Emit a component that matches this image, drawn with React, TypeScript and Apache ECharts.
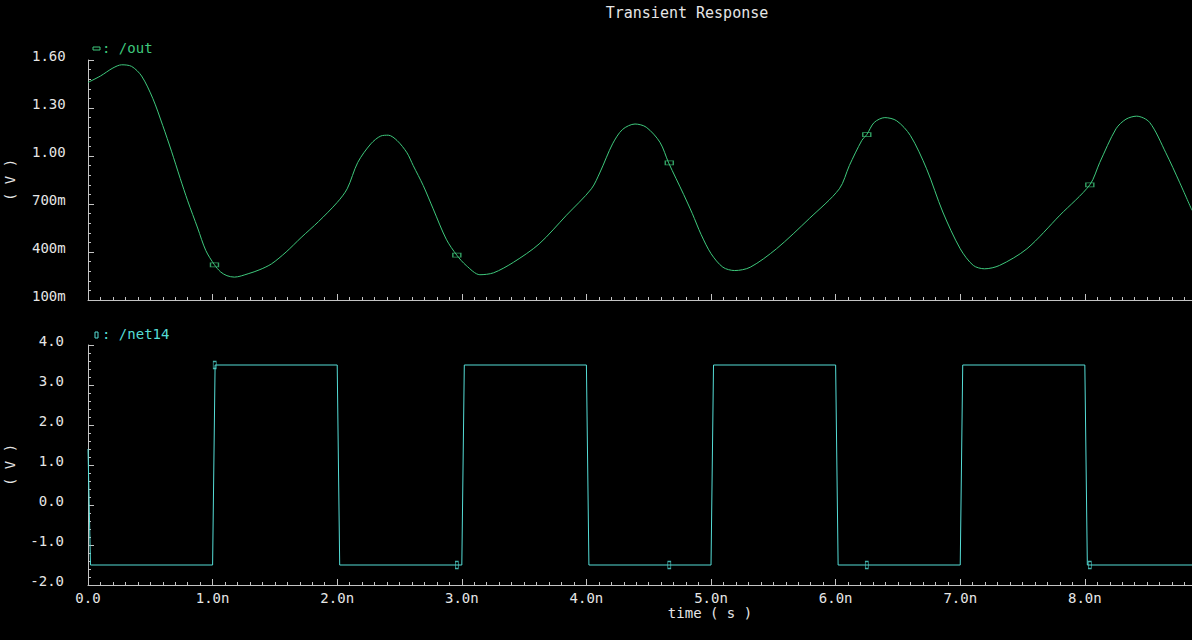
import React, { useEffect, useRef } from "react";
import * as echarts from "echarts";

// /out waveform (ns, V)
const outTime = [
  0, 0.1, 0.2, 0.27, 0.35, 0.43, 0.52, 0.6, 0.67, 0.74, 0.8, 0.88, 0.945, 1.015, 1.065, 1.115, 1.175,
  1.285, 1.38, 1.473, 1.59, 1.71, 1.85, 2.0, 2.08, 2.165, 2.27, 2.35, 2.41, 2.48, 2.56, 2.61, 2.69, 2.77,
  2.875, 2.96, 3.035, 3.145, 3.255, 3.415, 3.62, 3.84, 4.04, 4.11, 4.21, 4.29, 4.39, 4.48, 4.59, 4.66,
  4.78, 4.85, 4.92, 5.0, 5.095, 5.19, 5.315, 5.525, 5.79, 6.03, 6.11, 6.21, 6.25, 6.31, 6.395, 6.49, 6.6,
  6.73, 6.86, 7.0, 7.105, 7.195, 7.315, 7.535, 7.8, 8.04, 8.12, 8.25, 8.33, 8.415, 8.52, 8.65, 8.76, 8.86,
];
const outVolt = [
  1.46, 1.5, 1.55, 1.57, 1.56, 1.5, 1.36, 1.19, 1.03, 0.86, 0.72, 0.55, 0.41, 0.32, 0.275, 0.252, 0.243,
  0.264, 0.29, 0.326, 0.4, 0.49, 0.59, 0.71, 0.795, 0.96, 1.076, 1.125, 1.13, 1.097, 1.02, 0.94, 0.816, 0.67,
  0.48, 0.38, 0.316, 0.258, 0.27, 0.336, 0.45, 0.63, 0.795, 0.9, 1.076, 1.166, 1.2, 1.18, 1.086, 0.957,
  0.76, 0.64, 0.51, 0.39, 0.305, 0.284, 0.305, 0.42, 0.61, 0.795, 0.94, 1.097, 1.134, 1.21, 1.24, 1.22, 1.128,
  0.92, 0.65, 0.42, 0.316, 0.295, 0.316, 0.42, 0.63, 0.82, 0.96, 1.17, 1.23, 1.249, 1.21, 1.02, 0.836, 0.66,
];

// /net14 waveform (ns, V)
const netTime = [0, 0.02, 1.0, 1.02, 2.0, 2.02, 3.0, 3.02, 4.0, 4.02, 5.0, 5.02, 6.0, 6.02, 7.0, 7.02, 8.0, 8.02, 8.86];
const netVolt = [1.4, -1.5, -1.5, 3.5, 3.5, -1.5, -1.5, 3.5, 3.5, -1.5, -1.5, 3.5, 3.5, -1.5, -1.5, 3.5, 3.5, -1.5, -1.5];

// trace markers
const outMarkerTime = [1.015, 2.96, 4.665, 6.25, 8.04];
const outMarkerVolt = [0.32, 0.38, 0.957, 1.134, 0.82];
const netMarkerTime = [1.017, 2.96, 4.665, 6.25, 8.04];
const netMarkerVolt = [3.5, -1.5, -1.5, -1.5, -1.5];

const GREEN = "#3ec87c";
const CYAN = "#55ddd6";
const AX = "#c4c4c4";
const TXT = "#e6e6e6";
const FONT = '"DejaVu Sans Mono", monospace';

const pairs = (xs: number[], ys: number[]) => xs.map((x, i) => [x, ys[i]]);

export default function App() {
  const ref = useRef<HTMLDivElement>(null);
  useEffect(() => {
    const chart = echarts.init(ref.current!, null, { renderer: "svg" });
    const axisCommon = {
      axisLine: { show: true, onZero: false, lineStyle: { color: AX, width: 1 } },
      axisTick: { show: true, inside: true, length: 6, lineStyle: { color: AX } },
      splitLine: { show: false },
    };
    const yLabelCommon = {
      color: TXT,
      fontFamily: FONT,
      fontSize: 14,
      verticalAlign: "bottom",
      lineHeight: 9,
    };
    chart.setOption({
      animation: false,
      backgroundColor: "#000",
      grid: [
        { left: 88, right: 0, top: 60, height: 240, containLabel: false, outerBoundsMode: "none" },
        { left: 88, right: 0, top: 345, height: 240, containLabel: false, outerBoundsMode: "none" },
      ],
      xAxis: [
        {
          type: "value",
          gridIndex: 0,
          min: 0,
          max: 8.86,
          interval: 1,
          ...axisCommon,
          minorTick: { show: true, splitNumber: 10, length: 3, lineStyle: { color: AX } },
          axisLabel: { show: false },
        },
        {
          type: "value",
          gridIndex: 1,
          min: 0,
          max: 8.86,
          interval: 1,
          ...axisCommon,
          minorTick: { show: true, splitNumber: 10, length: 3, lineStyle: { color: AX } },
          axisLabel: {
            color: TXT,
            fontFamily: FONT,
            fontSize: 14,
            margin: 6,
            showMaxLabel: false,
            formatter: (v: number) => (v === 0 ? "0.0" : v.toFixed(1) + "n"),
          },
        },
      ],
      yAxis: [
        {
          type: "value",
          gridIndex: 0,
          min: 0.1,
          max: 1.6,
          interval: 0.3,
          ...axisCommon,
          minorTick: { show: true, splitNumber: 5, length: 3, lineStyle: { color: AX } },
          axisLabel: {
            ...yLabelCommon,
            margin: 56,
            align: "left",
            formatter: (v: number) => (v < 0.999 ? Math.round(v * 1000) + "m" : v.toFixed(2)),
          },
          name: "( V )",
          nameLocation: "middle",
          nameGap: 71,
          nameTextStyle: { color: TXT, fontFamily: FONT, fontSize: 14 },
        },
        {
          type: "value",
          gridIndex: 1,
          min: -2,
          max: 4,
          interval: 1,
          ...axisCommon,
          minorTick: { show: true, splitNumber: 5, length: 3, lineStyle: { color: AX } },
          axisLabel: {
            ...yLabelCommon,
            margin: 24,
            align: "right",
            formatter: (v: number) => v.toFixed(1),
          },
          name: "( V )",
          nameLocation: "middle",
          nameGap: 71,
          nameTextStyle: { color: TXT, fontFamily: FONT, fontSize: 14 },
        },
      ],
      series: [
        {
          type: "line",
          name: "/out",
          xAxisIndex: 0,
          yAxisIndex: 0,
          data: pairs(outTime, outVolt),
          smooth: 0.3,
          showSymbol: false,
          lineStyle: { color: GREEN, width: 1 },
        },
        {
          type: "line",
          name: "/net14",
          xAxisIndex: 1,
          yAxisIndex: 1,
          data: pairs(netTime, netVolt),
          showSymbol: false,
          lineStyle: { color: CYAN, width: 1 },
        },
        {
          type: "scatter",
          xAxisIndex: 0,
          yAxisIndex: 0,
          data: pairs(outMarkerTime, outMarkerVolt),
          symbol: "rect",
          symbolSize: [8, 4],
          itemStyle: { color: "rgba(0,0,0,0)", borderColor: GREEN, borderWidth: 1 },
          z: 5,
        },
        {
          type: "scatter",
          xAxisIndex: 1,
          yAxisIndex: 1,
          data: pairs(netMarkerTime, netMarkerVolt),
          symbol: "rect",
          symbolSize: [3, 7],
          itemStyle: { color: "rgba(0,0,0,0)", borderColor: CYAN, borderWidth: 1 },
          z: 5,
        },
      ],
      graphic: [
        {
          type: "text",
          x: 687,
          y: 13,
          style: {
            text: "Transient Response",
            fill: TXT,
            font: '15px "DejaVu Sans Mono"',
            align: "center",
            verticalAlign: "middle",
            textAlign: "center",
            textVerticalAlign: "middle",
          },
        },
        {
          type: "rect",
          shape: { x: 93, y: 47, width: 7, height: 3 },
          style: { fill: "none", stroke: GREEN, lineWidth: 1 },
        },
        {
          type: "text",
          x: 102,
          y: 48,
          style: {
            text: ": /out",
            fill: GREEN,
            font: '14px "DejaVu Sans Mono"',
            align: "left",
            verticalAlign: "middle",
            textAlign: "left",
            textVerticalAlign: "middle",
          },
        },
        {
          type: "rect",
          shape: { x: 95, y: 332, width: 3, height: 6 },
          style: { fill: "none", stroke: CYAN, lineWidth: 1 },
        },
        {
          type: "text",
          x: 102,
          y: 334,
          style: {
            text: ": /net14",
            fill: CYAN,
            font: '14px "DejaVu Sans Mono"',
            align: "left",
            verticalAlign: "middle",
            textAlign: "left",
            textVerticalAlign: "middle",
          },
        },
        {
          type: "text",
          x: 710,
          y: 613,
          style: {
            text: "time ( s )",
            fill: TXT,
            font: '14px "DejaVu Sans Mono"',
            align: "center",
            verticalAlign: "middle",
            textAlign: "center",
            textVerticalAlign: "middle",
          },
        },
      ],
    });
    return () => chart.dispose();
  }, []);
  return (
    <div
      ref={ref}
      style={{ position: "fixed", left: 0, top: 0, width: 1192, height: 640, background: "#000" }}
    />
  );
}
